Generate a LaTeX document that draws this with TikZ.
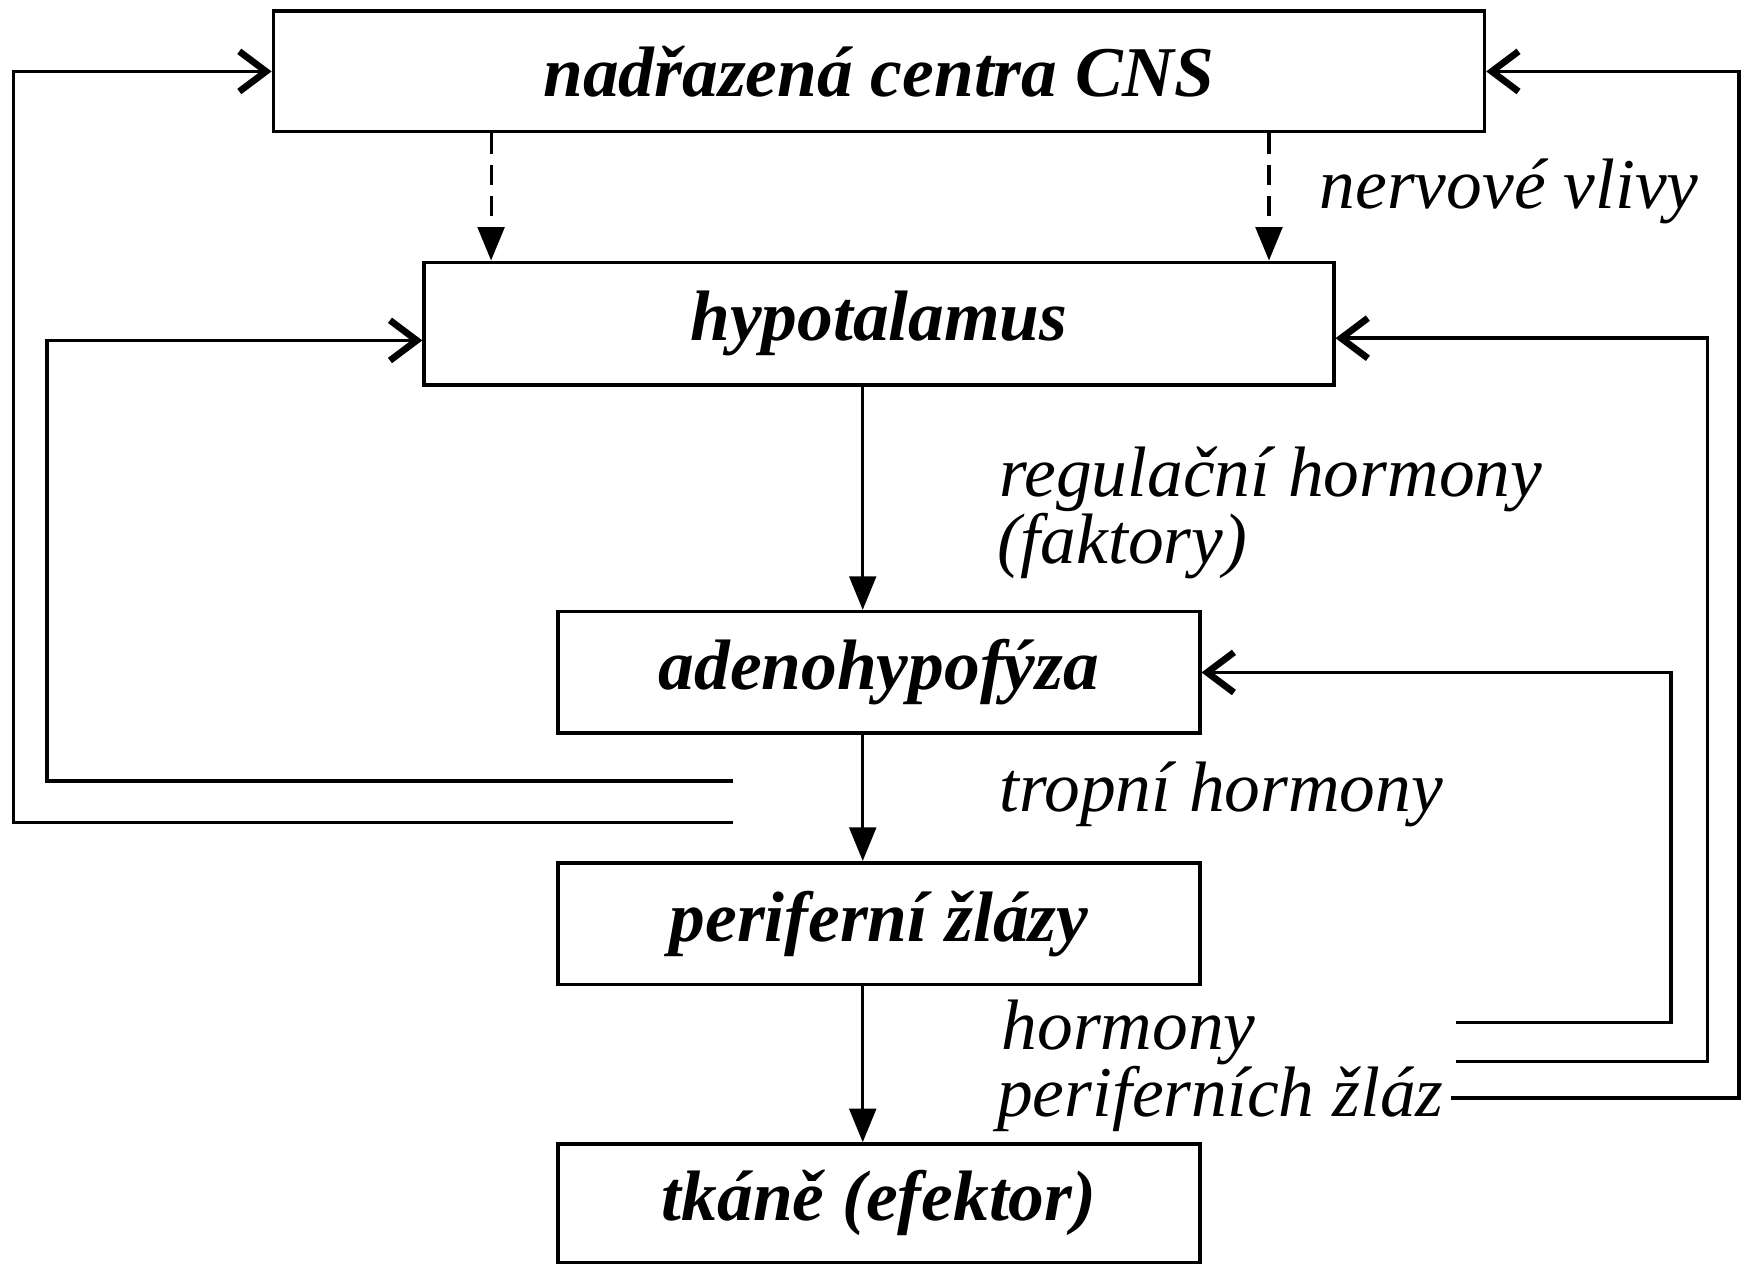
\documentclass[tikz,border=0pt]{standalone}
\usepackage{fontspec}
\setmainfont{Liberation Serif}
\usetikzlibrary{arrows.meta}
\begin{document}
\begin{tikzpicture}[x=0.5pt,y=-0.5pt,
  box/.style={draw, line width=1.6pt, inner sep=0pt, font=\fontsize{32}{38}\selectfont\bfseries\itshape},
  lab/.style={anchor=base west, inner sep=0pt, font=\fontsize{32}{38}\selectfont\itshape},
  down/.style={line width=1.2pt, -{Triangle[width=12pt,length=15pt]}},
  fb/.style={line width=1.6pt, -{Straight Barb[length=12pt,width=18pt,line width=3pt]}},
  dsh/.style={line width=1.4pt, dash pattern=on 9pt off 5pt}
]
\useasboundingbox (0,0) rectangle (1568,1132);
\node[box, minimum width=542.5pt, minimum height=54pt] (cns) at (787.5,64) {nadřazená centra CNS};
\node[box, minimum width=407.5pt, minimum height=55pt] (hyp) at (787.5,290) {hypotalamus};
\node[box, minimum width=287.5pt, minimum height=54.5pt] (ade) at (787.5,602.5) {adenohypofýza};
\node[box, minimum width=287.5pt, minimum height=54.5pt] (per) at (787.5,827.5) {periferní žlázy};
\node[box, minimum width=287.5pt, minimum height=53pt] (tka) at (787.5,1078) {tkáně (efektor)};

\node[lab] (nv) at (1182,187) {nervové vlivy};
\node[lab] (rh) at (895,445) {regulační hormony};
\node[lab] (fk) at (893,505) {(faktory)};
\node[lab] (th) at (895,727) {tropní hormony};
\node[lab] (hm) at (897,940) {hormony};
\node[lab] (pz) at (893,1000) {periferních žláz};

\coordinate (c) at (773,0);
\coordinate (d1) at (440,0);
\coordinate (d2) at (1137,0);
\draw[down,dsh] (cns.south -| d1) -- (hyp.north -| d1);
\draw[down,dsh] (cns.south -| d2) -- (hyp.north -| d2);
\draw[down] (hyp.south -| c) -- (ade.north -| c);
\draw[down] (ade.south -| c) -- (per.north -| c);
\draw[down] (per.south -| c) -- (tka.north -| c);

\coordinate (l1) at (657,737);
\coordinate (l2) at (657,700);
\draw[fb] (l1) -- (12,737) |- (cns.west);
\draw[fb] (l2) -- (42,700) |- ([yshift=-7.5pt]hyp.west);

\coordinate (r1) at (1305,916);
\coordinate (r2) at (1305,951);
\coordinate (r3) at (1300,984);
\draw[fb] (r1) -- (1497,916) |- (ade.east);
\draw[fb] (r2) -- (1530,951) |- ([yshift=-6.5pt]hyp.east);
\draw[fb] (r3) -- (1558,984) |- (cns.east);
\end{tikzpicture}
\end{document}
